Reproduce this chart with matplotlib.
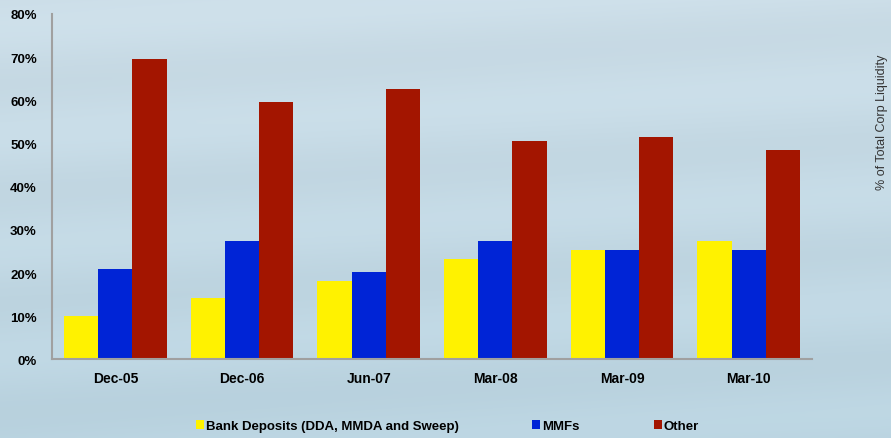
import matplotlib
matplotlib.use("Agg")
import matplotlib.pyplot as plt
from matplotlib.patches import Patch
import numpy as np

# share of total corporate liquidity, in percent
periods = ["Dec-05", "Dec-06", "Jun-07", "Mar-08", "Mar-09", "Mar-10"]
bank_deposits = [10.0, 14.3, 18.2, 23.2, 25.4, 27.4]
mmfs = [21.0, 27.4, 20.3, 27.4, 25.4, 25.4]
other = [69.5, 59.6, 62.7, 50.5, 51.5, 48.6]
series_names = ["Bank Deposits (DDA, MMDA and Sweep)", "MMFs", "Other"]
y_ticks = [0, 10, 20, 30, 40, 50, 60, 70, 80]

colors = ["#fff200", "#0024d6", "#a31500"]

plt.rcParams["font.family"] = ["Liberation Sans", "DejaVu Sans"]

fig = plt.figure(figsize=(8.91, 4.39), dpi=100)

# pale blue backdrop with a soft vertical gradient
bg = fig.add_axes([0, 0, 1, 1], zorder=-10)
yy = np.linspace(0, 1, 200)[:, None]
xx = np.linspace(0, 1, 300)[None, :]
top = np.array([0.80, 0.87, 0.91])
bottom = np.array([0.73, 0.83, 0.88])
grad = top[None, None, :] * (1 - yy[..., None]) + bottom[None, None, :] * yy[..., None]
grad = grad + 0.012 * np.sin(yy[..., None] * 25 + xx[..., None] * 3)
grad = np.clip(grad * np.ones((1, 300, 1)), 0, 1)
bg.imshow(grad, aspect="auto", extent=[0, 1, 0, 1], origin="upper")
bg.axis("off")

ax = fig.add_axes([0.0584, 0.179, 0.853, 0.787])
ax.patch.set_alpha(0)

x = np.arange(len(periods))
w = 0.27
for i, (vals, c) in enumerate(zip([bank_deposits, mmfs, other], colors)):
    ax.bar(x + (i - 1) * w, vals, width=w, color=c, edgecolor="none")

ax.set_xlim(-0.5, len(periods) - 0.5)
ax.set_ylim(0, 80)
ax.set_yticks(y_ticks)
ax.set_yticklabels([f"{t}%" for t in y_ticks], fontsize=9.5, fontweight="bold")
ax.set_xticks(x)
ax.set_xticklabels(periods, fontsize=10, fontweight="bold")
ax.tick_params(axis="y", length=0, pad=11)
ax.tick_params(axis="x", length=0, pad=8)
for s in ["top", "right"]:
    ax.spines[s].set_visible(False)
for s in ["left", "bottom"]:
    ax.spines[s].set_color("#a0a0a0")
    ax.spines[s].set_linewidth(1.5)

fig.text(0.99, 0.722, "% of Total Corp Liquidity", rotation=90,
         ha="center", va="center", fontsize=9, color="#333333")

handles = [Patch(facecolor=c, edgecolor="none") for c in colors]
fig.legend(handles, series_names, loc="center", bbox_to_anchor=(0.502, 0.027),
           ncol=3, frameon=False, handlelength=0.6, handleheight=0.6,
           handletextpad=0.15, columnspacing=5.6,
           prop={"size": 9.5, "weight": "bold"})

fig.savefig("out.png", dpi=100)
